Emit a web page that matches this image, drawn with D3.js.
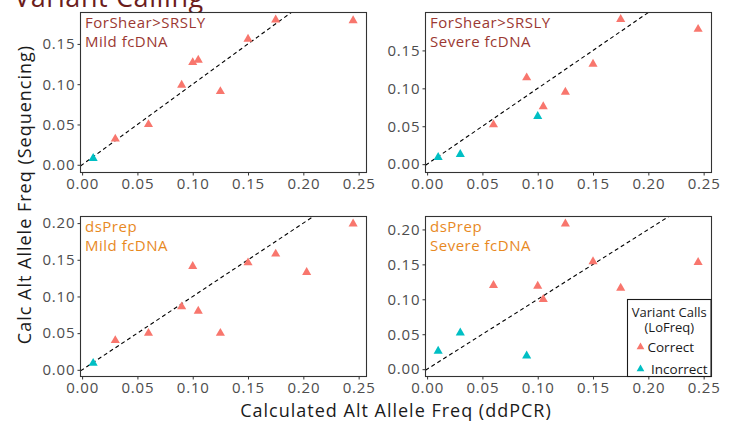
<!DOCTYPE html>
<html>
<head>
<meta charset="utf-8">
<script src="https://cdn.jsdelivr.net/npm/d3@7"></script>
<style>
  body { margin: 0; background: #fff; }
  text { font-family: "Open Sans", Lato, sans-serif; }
</style>
</head>
<body>
<div id="chart"></div>
<script>
//Data (ddPCR value, sequencing value, LoFreq call)
var ddpcrShearMild = [0.01, 0.03, 0.06, 0.09, 0.10, 0.105, 0.125, 0.15, 0.175, 0.245];
var seqShearMild   = [0.008, 0.032, 0.050, 0.099, 0.127, 0.130, 0.091, 0.156, 0.180, 0.179];
var callShearMild  = ["Incorrect","Correct","Correct","Correct","Correct","Correct","Correct","Correct","Correct","Correct"];

var ddpcrShearSevere = [0.01, 0.03, 0.06, 0.09, 0.10, 0.105, 0.125, 0.15, 0.175, 0.245];
var seqShearSevere   = [0.009, 0.013, 0.052, 0.114, 0.063, 0.076, 0.095, 0.132, 0.191, 0.178];
var callShearSevere  = ["Incorrect","Incorrect","Correct","Correct","Incorrect","Correct","Correct","Correct","Correct","Correct"];

var ddpcrDsMild = [0.01, 0.03, 0.06, 0.09, 0.10, 0.105, 0.125, 0.15, 0.175, 0.203, 0.245];
var seqDsMild   = [0.009, 0.040, 0.050, 0.086, 0.141, 0.080, 0.050, 0.146, 0.158, 0.133, 0.199];
var callDsMild  = ["Incorrect","Correct","Correct","Correct","Correct","Correct","Correct","Correct","Correct","Correct","Correct"];

var ddpcrDsSevere = [0.01, 0.03, 0.06, 0.09, 0.10, 0.105, 0.125, 0.15, 0.175, 0.245];
var seqDsSevere   = [0.026, 0.052, 0.120, 0.019, 0.119, 0.100, 0.208, 0.154, 0.116, 0.153];
var callDsSevere  = ["Incorrect","Incorrect","Correct","Incorrect","Correct","Correct","Correct","Correct","Correct","Correct"];

var xTicks = [0, 0.05, 0.10, 0.15, 0.20, 0.25];
var yTicksTop = [0, 0.05, 0.10, 0.15];
var yTicksBottom = [0, 0.05, 0.10, 0.15, 0.20];
var callLevels = ["Correct", "Incorrect"];

var panels = [
  {label: ["ForShear>SRSLY", "Mild fcDNA"], labelColor: "#9b3832", x: ddpcrShearMild, y: seqShearMild, call: callShearMild,
   col: 0, row: 0, yDomain: [-0.0096, 0.189], yTicks: yTicksTop},
  {label: ["ForShear>SRSLY", "Severe fcDNA"], labelColor: "#9b3832", x: ddpcrShearSevere, y: seqShearSevere, call: callShearSevere,
   col: 1, row: 0, yDomain: [-0.011, 0.200], yTicks: yTicksTop},
  {label: ["dsPrep", "Mild fcDNA"], labelColor: "#e8891f", x: ddpcrDsMild, y: seqDsMild, call: callDsMild,
   col: 0, row: 1, yDomain: [-0.0091, 0.209], yTicks: yTicksBottom},
  {label: ["dsPrep", "Severe fcDNA"], labelColor: "#e8891f", x: ddpcrDsSevere, y: seqDsSevere, call: callDsSevere,
   col: 1, row: 1, yDomain: [-0.0105, 0.2185], yTicks: yTicksBottom}
];

//Layout
var width = 732, height = 428,
    panelW = 286, panelH = 160,
    panelLeft = [80.5, 425.5],
    panelTop = [12.5, 216.5];

var color = d3.scaleOrdinal().domain(callLevels).range(["#F8766D", "#00BFC4"]);
var tri = d3.symbol().type(d3.symbolTriangle);

var svg = d3.select("#chart").append("svg")
  .attr("width", width)
  .attr("height", height);

//Overall title (cut off at top like the original)
svg.append("text")
  .attr("x", 14)
  .attr("y", 6.5)
  .style("font-size", "27px")
  .style("letter-spacing", "0.6px")
  .style("fill", "#6b1d1d")
  .text("Variant Calling");

panels.forEach(function(p, i) {
  var x = d3.scaleLinear().domain([-0.00145, 0.2571]).range([0, panelW]);
  var y = d3.scaleLinear().domain(p.yDomain).range([panelH, 0]);

  var g = svg.append("g")
    .attr("transform", "translate(" + panelLeft[p.col] + "," + panelTop[p.row] + ")");

  g.append("clipPath").attr("id", "clip" + i)
    .append("rect").attr("width", panelW).attr("height", panelH);

  g.append("rect")
    .attr("width", panelW)
    .attr("height", panelH)
    .style("fill", "#fff");

  //Axes
  var xa = g.append("g")
    .attr("transform", "translate(0," + panelH + ")")
    .call(d3.axisBottom(x).tickValues(xTicks).tickFormat(d3.format(".2f")).tickSize(3).tickPadding(3));
  var ya = g.append("g")
    .call(d3.axisLeft(y).tickValues(p.yTicks).tickFormat(d3.format(".2f")).tickSize(3).tickPadding(3));
  [xa, ya].forEach(function(a) {
    a.select(".domain").remove();
    a.selectAll("line").style("stroke", "#333");
    a.selectAll("text")
      .style("font-size", "15px")
      .style("letter-spacing", "0.8px")
      .style("fill", "#4d4d4d")
      .style("font-family", "'Open Sans', Lato, sans-serif");
  });
  ya.selectAll("text").attr("dx", "0.8px");

  //y = x reference line
  var lo = Math.max(x.domain()[0], y.domain()[0]), hi = Math.min(x.domain()[1], y.domain()[1]);
  g.append("line")
    .attr("clip-path", "url(#clip" + i + ")")
    .attr("x1", x(lo)).attr("y1", y(lo))
    .attr("x2", x(hi)).attr("y2", y(hi))
    .style("stroke", "#000")
    .style("stroke-width", 1.1)
    .style("stroke-dasharray", "4,3");

  //Points
  g.selectAll("path.pt")
    .data(p.x.map(function(d, k) { return {x: d, y: p.y[k], call: p.call[k]}; }))
    .enter().append("path")
    .attr("class", "pt")
    .attr("d", tri.size(36))
    .attr("transform", function(d) { return "translate(" + x(d.x) + "," + y(d.y) + ")"; })
    .style("fill", function(d) { return color(d.call); });

  //Panel label
  g.selectAll("text.lab")
    .data(p.label)
    .enter().append("text")
    .attr("class", "lab")
    .attr("x", 4.5)
    .attr("y", function(d, k) { return (p.row == 0 ? 15 : 15.3) + k * 19; })
    .style("font-size", "15px")
    .style("letter-spacing", "0.5px")
    .style("fill", p.labelColor)
    .text(function(d) { return d; });

  //Border
  g.append("rect")
    .attr("width", panelW)
    .attr("height", panelH)
    .style("fill", "none")
    .style("stroke", "#333")
    .style("stroke-width", 1.1);
});

//Axis titles
svg.append("text")
  .attr("x", (panelLeft[0] + panelLeft[1] + panelW) / 2)
  .attr("y", 417)
  .attr("text-anchor", "middle")
  .style("font-size", "18px")
  .style("letter-spacing", "1px")
  .style("fill", "#1a1a1a")
  .text("Calculated Alt Allele Freq (ddPCR)");

svg.append("text")
  .attr("transform", "translate(31," + (panelTop[0] + panelTop[1] + panelH) / 2 + ") rotate(-90)")
  .attr("text-anchor", "middle")
  .style("font-size", "18px")
  .style("letter-spacing", "1px")
  .style("fill", "#1a1a1a")
  .text("Calc Alt Allele Freq (Sequencing)");

//Legend inside bottom-right panel
var lg = svg.append("g").attr("transform", "translate(627.5,299.5)");
lg.append("rect")
  .attr("width", 83.5)
  .attr("height", 77)
  .style("fill", "#fff")
  .style("stroke", "#1a1a1a")
  .style("stroke-width", 1.1);
lg.selectAll("text.ttl")
  .data(["Variant Calls", "(LoFreq)"])
  .enter().append("text")
  .attr("class", "ttl")
  .attr("x", 41.8)
  .attr("y", function(d, k) { return 17 + k * 15.5; })
  .attr("text-anchor", "middle")
  .style("font-size", "13px")
  .style("fill", "#1a1a1a")
  .text(function(d) { return d; });
var items = lg.selectAll("g.item")
  .data(callLevels)
  .enter().append("g")
  .attr("class", "item")
  .attr("transform", function(d, k) { return "translate(13," + (47.5 + k * 22) + ")"; });
items.append("path")
  .attr("d", tri.size(26))
  .style("fill", function(d) { return color(d); });
items.append("text")
  .attr("x", function(d, k) { return k == 0 ? 7 : 10.5; })
  .attr("y", 4.5)
  .style("font-size", "13.5px")
  .style("fill", "#1a1a1a")
  .text(function(d) { return d; });
</script>
</body>
</html>
